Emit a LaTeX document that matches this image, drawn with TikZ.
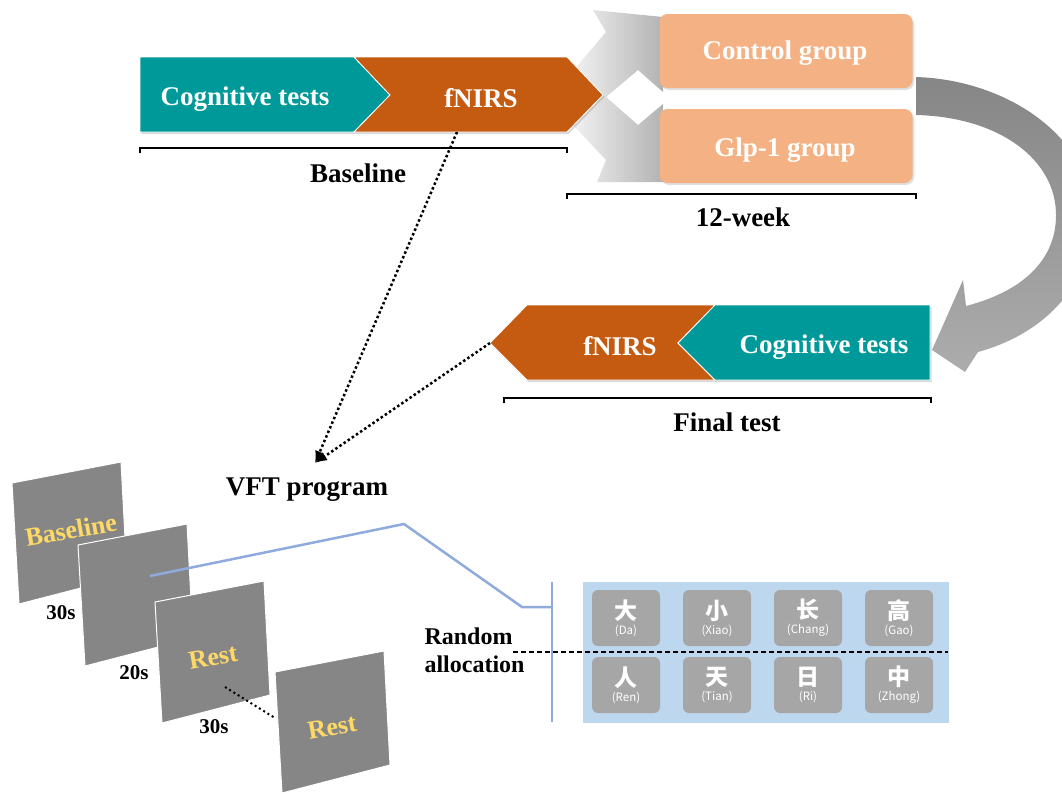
\documentclass[tikz,border=0pt]{standalone}
\usepackage{fontspec}
\setmainfont{Liberation Serif}
\newfontfamily\cjk{Noto Sans CJK SC}
\usetikzlibrary{arrows.meta,shadows}

\definecolor{tealbar}{RGB}{0,153,153}
\definecolor{orangebar}{RGB}{197,90,17}
\definecolor{peach}{RGB}{244,177,131}
\definecolor{panelgray}{RGB}{134,134,134}
\definecolor{tilegray}{RGB}{166,166,166}
\definecolor{poolblue}{RGB}{189,215,238}
\definecolor{lineblue}{RGB}{143,170,220}
\definecolor{restyellow}{RGB}{255,217,102}

\newcommand{\tilechar}[2]{{\cjk\bfseries\fontsize{23}{23}\selectfont #1}\\[2pt]{\cjk\fontsize{11.5}{13}\selectfont(#2)}}

\tikzset{
    lbl/.style={font=\fontsize{27}{30}\selectfont\bfseries},
    bartxt/.style={lbl, text=white},
    bar/.style={draw=white, line width=0.8pt, drop shadow={shadow xshift=1.5pt, shadow yshift=-2pt, opacity=0.3}},
    grp/.style={bartxt, fill=peach, rounded corners=8pt, minimum width=253pt, minimum height=74pt,
        drop shadow={shadow xshift=1.5pt, shadow yshift=-2pt, opacity=0.25}},
    brace/.style={line width=1.5pt},
    dotarrow/.style={line width=2.5pt, dash pattern=on 2.5pt off 2.5pt, -{Latex[length=12pt,width=10pt]}},
    dotline/.style={line width=2pt, dash pattern=on 2pt off 3pt},
    panel/.style={fill=panelgray, draw=white, line width=1pt},
    paneltxt/.style={font=\fontsize{26}{28}\selectfont\bfseries, text=restyellow, rotate=10},
    sec/.style={font=\fontsize{21}{24}\selectfont\bfseries},
    blueline/.style={lineblue, line width=2.5pt},
    dashline/.style={line width=1.5pt, dash pattern=on 5pt off 3pt},
    tile/.style={fill=tilegray, rounded corners=6pt, minimum width=68pt, minimum height=56pt,
        text=white, align=center, inner sep=0pt, font=\fontsize{11.5}{13}\selectfont},
}

\begin{document}
\begin{tikzpicture}[x=1pt, y=-1pt]
    \clip (0,0) rectangle (1062,793);

    % baseline bar
    \shade[left color=gray!10, right color=gray!60] (572,72) -- (606,32) -- (593,10) -- (663,17) -- (663,92) -- (638,70)
        -- (606,97) -- (638,125) -- (663,104) -- (663,182) -- (597,182) -- (606,160) -- (572,124) -- cycle;
    \fill[tealbar, bar] (140,57) -- (354,57) -- (390,95) -- (354,132) -- (140,132) -- cycle;
    \fill[orangebar, bar] (354,57) -- (567,57) -- (603,95) -- (567,132) -- (354,132) -- (390,95) -- cycle;
    \node[bartxt] (cog1) at (245,99) {Cognitive tests};
    \node[bartxt] (nirs1) at (481,98) {fNIRS};
    \draw[brace] (140,153) -- (140,148) -- (567,148) -- (567,153);
    \node[lbl] (base) at (358,173) {Baseline};

    % groups
    \node[grp] (ctrl) at (786,51) {};
    \node[bartxt] (ctrltxt) at (785,53) {Control group};
    \node[grp] (glp) at (786,146) {};
    \node[bartxt] (glptxt) at (785,150) {Glp-1 group};
    \draw[brace] (567,199) -- (567,194) -- (916,194) -- (916,199);
    \node[lbl] (wk) at (743,217) {12-week};

    % curved arrow
    \shade[top color=gray!95, bottom color=gray!65] (916,77) .. controls (1010,80) and (1095,140) .. (1092,220)
        .. controls (1090,290) and (1040,335) .. (978,352) -- (965,372) -- (932,350) -- (963,280) -- (966,306)
        .. controls (1020,292) and (1056,262) .. (1056,215) .. controls (1056,160) and (1000,117) .. (916,115) -- cycle;

    % final bar
    \fill[orangebar, bar] (490,343) -- (527,305) -- (715,305) -- (678,343) -- (715,380) -- (527,380) -- cycle;
    \fill[tealbar, bar] (715,305) -- (930,305) -- (930,380) -- (715,380) -- (678,343) -- cycle;
    \node[bartxt] (nirs2) at (620,346) {fNIRS};
    \node[bartxt] (cog2) at (824,347) {Cognitive tests};
    \draw[brace] (504,403) -- (504,398) -- (931,398) -- (931,403);
    \node[lbl] (fin) at (727,422) {Final test};

    % VFT
    \node[lbl] (vft) at (307,490) {VFT program};
    \coordinate (vftin) at (315,463);
    \coordinate (tip1) at (457,132);
    \coordinate (tip2) at (490,343);
    \draw[dotarrow] (tip1) -- (vftin);
    \draw[dotarrow] (tip2) -- (vftin);

    % panels
    \filldraw[panel] (12,483) -- ++(109,-21) -- ++(6,114) -- ++(-108,28) -- cycle;
    \node[paneltxt] (pbase) at (71,530) {Baseline};
    \filldraw[panel] (78,545) -- ++(109,-21) -- ++(6,114) -- ++(-108,28) -- cycle;
    \filldraw[panel] (155,602) -- ++(109,-21) -- ++(6,114) -- ++(-108,28) -- cycle;
    \coordinate (dA) at (225,687);
    \coordinate (dB) at (275,718);
    \draw[dotline] (dA) -- (dB);
    \filldraw[panel] (275,672) -- ++(109,-21) -- ++(6,114) -- ++(-108,28) -- cycle;
    \node[paneltxt] (prest1) at (213,657) {Rest};
    \node[paneltxt] (prest2) at (332,727) {Rest};
    \node[sec] (d1) at (61,613) {30s};
    \node[sec] (d2) at (134,673) {20s};
    \node[sec] (d3) at (214,727) {30s};

    % words
    \coordinate (b0) at (150,576);
    \coordinate (b1) at (404,524);
    \coordinate (b2) at (522,607);
    \coordinate (b3) at (552,607);
    \coordinate (bt) at (552,582);
    \coordinate (bb) at (552,722);
    \draw[blueline] (b0) -- (b1) -- (b2) -- (b3);
    \draw[blueline] (bt) -- (bb);
    \node[font=\fontsize{24}{28}\selectfont\bfseries, align=left, anchor=west] (rand) at (421,650) {Random\\allocation};
    \fill[poolblue] (583,582) rectangle (949,723);
    \node[tile] (w1) at (626,618) {\tilechar{大}{Da}};
    \node[tile] (w2) at (717,618) {\tilechar{小}{Xiao}};
    \node[tile] (w3) at (808,618) {\tilechar{长}{Chang}};
    \node[tile] (w4) at (899,618) {\tilechar{高}{Gao}};
    \node[tile] (w5) at (626,685) {\tilechar{人}{Ren}};
    \node[tile] (w6) at (717,685) {\tilechar{天}{Tian}};
    \node[tile] (w7) at (808,685) {\tilechar{日}{Ri}};
    \node[tile] (w8) at (899,685) {\tilechar{中}{Zhong}};
    \coordinate (s0) at (513,652);
    \coordinate (s1) at (948,652);
    \draw[dashline] (s0) -- (s1);
\end{tikzpicture}
\end{document}
